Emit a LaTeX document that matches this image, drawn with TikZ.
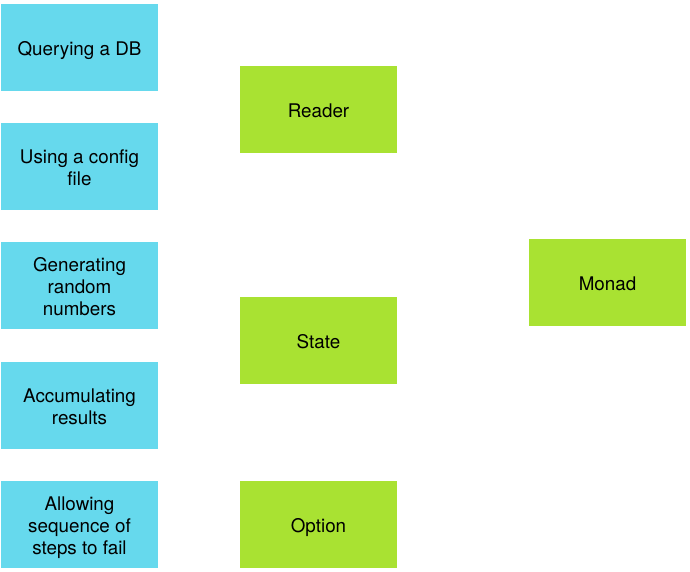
\documentclass[tikz,border=0pt]{standalone}
\usepackage{fontspec}
\setmainfont{TeX Gyre Heros}
\usetikzlibrary{arrows.meta}
\definecolor{boxblue}{RGB}{102,217,237}
\definecolor{boxgreen}{RGB}{169,226,50}
\newcommand{\boxtext}[1]{\raisebox{-3.5pt}[\height][\depth]{\begin{tabular}{@{}c@{}}#1\end{tabular}}}
\begin{document}
\begin{tikzpicture}[x=1pt,y=-1pt,
  base/.style={minimum width=157pt,minimum height=87pt,align=center,inner sep=0pt,font=\fontsize{18.8}{22}\selectfont},
  usecase/.style={base,fill=boxblue},
  monadbox/.style={base,fill=boxgreen},
  link/.style={draw=white,line width=0.8pt,-{Stealth[length=3pt,width=3pt]}}]
\useasboundingbox[fill=white] (0,0) rectangle (690,572);
\node[usecase] (db) at (79.5,47.5) {\boxtext{Querying a DB}};
\node[usecase] (cfg) at (79.5,166.5) {\boxtext{Using a config\\file}};
\node[usecase] (rnd) at (79.5,285.5) {\boxtext{Generating\\random\\numbers}};
\node[usecase] (acc) at (79.5,405.5) {\boxtext{Accumulating\\results}};
\node[usecase] (fail) at (79.5,524.5) {\boxtext{Allowing\\sequence of\\steps to fail}};
\node[monadbox] (reader) at (318.5,109.5) {\boxtext{Reader}};
\node[monadbox] (state) at (318.5,340.5) {\boxtext{State}};
\node[monadbox] (option) at (318.5,524.5) {\boxtext{Option}};
\node[monadbox] (monad) at (607.5,282.5) {\boxtext{Monad}};
\draw[link] (db) -- (reader);
\draw[link] (cfg) -- (reader);
\draw[link] (rnd) -- (state);
\draw[link] (acc) -- (state);
\draw[link] (fail) -- (option);
\draw[link] (reader) -- (monad);
\draw[link] (state) -- (monad);
\draw[link] (option) -- (monad);
\end{tikzpicture}
\end{document}
